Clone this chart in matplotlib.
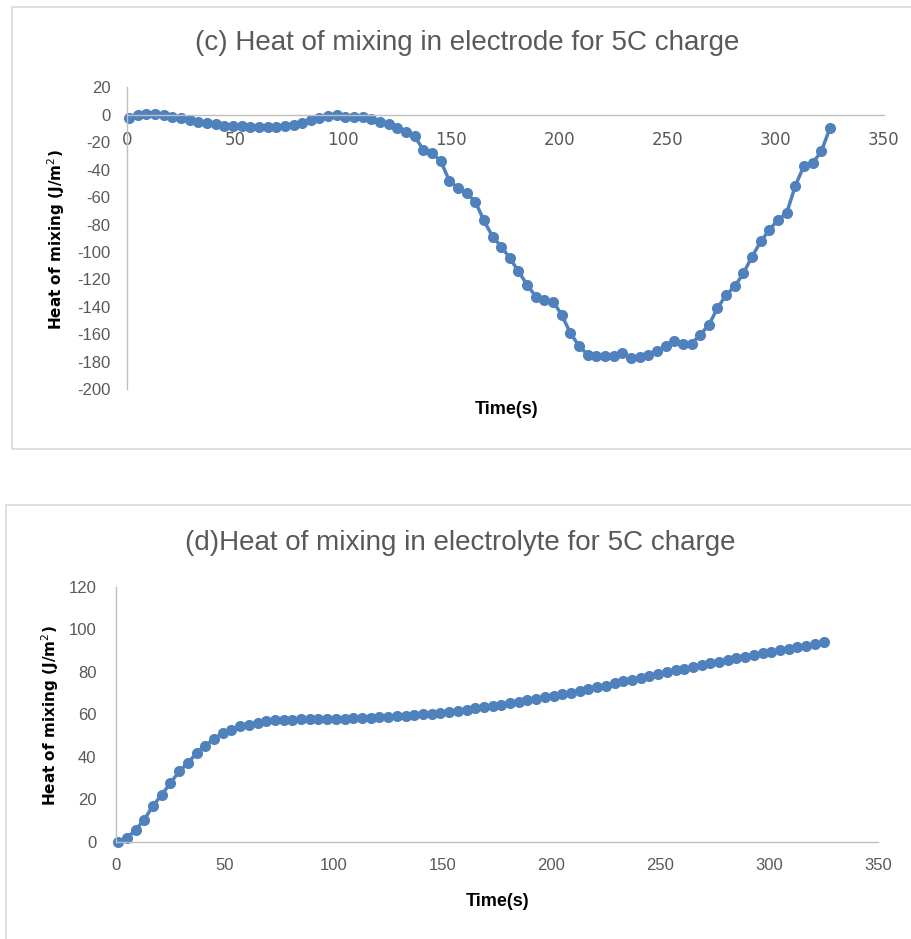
import matplotlib
matplotlib.use("Agg")
import matplotlib.pyplot as plt
from matplotlib.patches import Rectangle

plt.rcParams["axes.unicode_minus"] = False

# sample times (s), shared by both runs
time_s = [1, 5, 9, 13, 17, 21, 25, 29, 33, 37, 41, 45, 49, 53, 57, 61, 65, 69, 73, 77,
          81, 85, 89, 93, 97, 101, 105, 109, 113, 117, 121, 125, 129, 133, 137, 141, 145,
          149, 153, 157, 161, 165, 169, 173, 177, 181, 185, 189, 193, 197, 201, 205, 209,
          213, 217, 221, 225, 229, 233, 237, 241, 245, 249, 253, 257, 261, 265, 269, 273,
          277, 281, 285, 289, 293, 297, 301, 305, 309, 313, 317, 321, 325]

# heat of mixing in the electrode (J/m^2)
electrode_heat = [-2, 0, 0.5, 0.5, -0.5, -1.5, -2.5, -3.5, -5, -6, -7, -8, -8.5, -8.5,
                  -9, -9, -9, -9, -8.5, -7.5, -6, -4, -2.5, -1, 0, -1.5, -1.5, -1.5, -3,
                  -5, -7, -9.5, -12.2, -15.8, -25.5, -27.9, -33.6, -47.9, -53.4, -57.1,
                  -63.2, -77.0, -88.7, -96.0, -104.4, -114.1, -123.9, -132.4, -134.8,
                  -136.1, -145.8, -159.1, -168.4, -174.9, -175.7, -175.7, -175.7, -173.7,
                  -177.3, -176.6, -174.9, -171.8, -168.4, -164.5, -166.9, -166.9, -160.3,
                  -153.1, -140.9, -131.2, -125.1, -115.4, -103.3, -92.3, -83.8, -76.5,
                  -71.6, -51.7, -37.2, -35.2, -26.7, -9.8]

# heat of mixing in the electrolyte (J/m^2)
electrolyte_heat = [0, 1.7, 5.6, 10.4, 16.9, 22.1, 27.6, 33.1, 37.0, 41.7, 45.2, 48.3,
                    51.2, 52.7, 54.3, 55.1, 55.9, 56.6, 57.1, 57.3, 57.5, 57.6, 57.7, 57.7,
                    57.7, 57.8, 57.9, 58.0, 58.2, 58.4, 58.6, 58.8, 59.0, 59.3, 59.6, 59.9,
                    60.2, 60.5, 61.2, 61.7, 62.2, 62.7, 63.3, 63.9, 64.5, 65.1, 65.8, 66.5,
                    67.2, 67.9, 68.6, 69.4, 70.2, 71.0, 71.8, 72.6, 73.5, 74.5, 75.4, 76.3,
                    77.2, 78.1, 79.0, 79.9, 80.7, 81.5, 82.3, 83.1, 83.9, 84.7, 85.5, 86.3,
                    87.1, 87.9, 88.6, 89.3, 90.0, 90.8, 91.5, 92.3, 93.0, 94.0]

x_ticks = [0, 50, 100, 150, 200, 250, 300, 350]
electrode_ticks = [20, 0, -20, -40, -60, -80, -100, -120, -140, -160, -180, -200]
electrolyte_ticks = [0, 20, 40, 60, 80, 100, 120]

title_c = "(c) Heat of mixing in electrode for 5C charge"
title_d = "(d)Heat of mixing in electrolyte for 5C charge"
ylabel = "Heat of mixing (J/m$^2$)"
xlabel = "Time(s)"

BLUE = "#4f81bd"
GREY_TEXT = "#595959"
AXIS_GREY = "#bfbfbf"
FRAME_GREY = "#d9d9d9"
SANS = "Liberation Sans"

fig = plt.figure(figsize=(9.12, 9.39), dpi=100)

# chart-area borders
fig.patches.append(Rectangle((12 / 912, 1 - 449 / 939), 1.2, (449 - 7) / 939,
                             transform=fig.transFigure, fill=False,
                             edgecolor=FRAME_GREY, linewidth=1.2))
fig.patches.append(Rectangle((6 / 912, -0.1), 1.2, 0.1 + (939 - 505) / 939,
                             transform=fig.transFigure, fill=False,
                             edgecolor=FRAME_GREY, linewidth=1.2))


def style_axes(ax, yticks):
    for side in ("top", "right"):
        ax.spines[side].set_visible(False)
    for side in ("left", "bottom"):
        ax.spines[side].set_color(AXIS_GREY)
        ax.spines[side].set_linewidth(1.0)
    ax.set_xlim(0, 350)
    ax.set_xticks(x_ticks)
    ax.set_yticks(yticks)
    ax.tick_params(length=0, labelcolor=GREY_TEXT, labelsize=12)
    for lab in ax.get_xticklabels() + ax.get_yticklabels():
        lab.set_family(SANS)


# (c) electrode
ax1 = fig.add_axes([127 / 912, 1 - 389.3 / 939, 757 / 912, (389.3 - 87.3) / 939])
ax1.plot(time_s, electrode_heat, color=BLUE, linewidth=2.5, marker="o",
         markersize=8, markeredgewidth=0, clip_on=False)
ax1.set_ylim(-200, 20)
style_axes(ax1, electrode_ticks)
ax1.spines["bottom"].set_position(("data", 0))
ax1.tick_params(axis="x", pad=12)
ax1.tick_params(axis="y", pad=12)
fig.text(467 / 912, 1 - 43 / 939, title_c, ha="center", va="center",
         color=GREY_TEXT, fontsize=20, family=SANS)
fig.text(507 / 912, 1 - 410 / 939, xlabel, ha="center", va="center",
         fontsize=13, fontweight="bold", family=SANS)
fig.text(56 / 912, 1 - 240 / 939, ylabel, ha="center", va="center", rotation=90,
         fontsize=11, fontweight="bold")

# (d) electrolyte
ax2 = fig.add_axes([116 / 912, 1 - 841.7 / 939, 762 / 912, (841.7 - 586.7) / 939])
ax2.plot(time_s, electrolyte_heat, color=BLUE, linewidth=2.5, marker="o",
         markersize=8, markeredgewidth=0, clip_on=False)
ax2.set_ylim(0, 120)
style_axes(ax2, electrolyte_ticks)
ax2.tick_params(axis="x", pad=12)
ax2.tick_params(axis="y", pad=14)
fig.text(460 / 912, 1 - 543 / 939, title_d, ha="center", va="center",
         color=GREY_TEXT, fontsize=20, family=SANS)
fig.text(498 / 912, 1 - 902 / 939, xlabel, ha="center", va="center",
         fontsize=13, fontweight="bold", family=SANS)
fig.text(50 / 912, 1 - 716 / 939, ylabel, ha="center", va="center", rotation=90,
         fontsize=11, fontweight="bold")

fig.savefig("out.png", dpi=100)
